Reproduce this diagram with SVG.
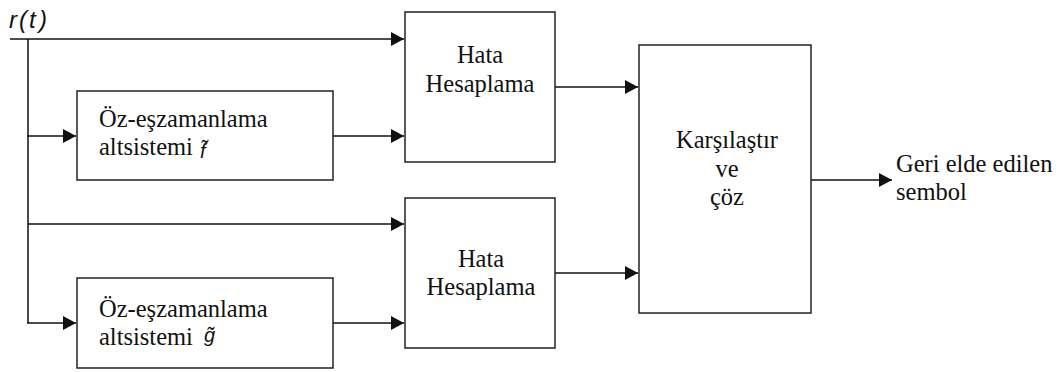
<svg xmlns="http://www.w3.org/2000/svg" width="1059" height="372" viewBox="0 0 1059 372">
<style>
.box{fill:#fff;stroke:#222;stroke-width:1.5}
.ln{fill:none;stroke:#111;stroke-width:1.5}
.t{font-family:"Liberation Serif","Times New Roman",serif;font-size:24.5px;fill:#111}
.c{text-anchor:middle}
.m{font-family:"Liberation Sans",Arial,sans-serif;font-style:italic;fill:#111}
</style>
<defs>
<marker id="ah" markerUnits="userSpaceOnUse" markerWidth="14" markerHeight="14" refX="13" refY="7" orient="auto">
<path d="M0,0 L13,7 L0,14 z" fill="#111"/>
</marker>
</defs>
<rect width="1059" height="372" fill="#fff"/>
<g id="connectors">
<path class="ln" d="M10,39 H404" marker-end="url(#ah)"/>
<path class="ln" d="M28,39 V323"/>
<path class="ln" d="M27,136 H76" marker-end="url(#ah)"/>
<path class="ln" d="M333,136 H404" marker-end="url(#ah)"/>
<path class="ln" d="M28,224 H404" marker-end="url(#ah)"/>
<path class="ln" d="M27,323 H76" marker-end="url(#ah)"/>
<path class="ln" d="M333,323 H404" marker-end="url(#ah)"/>
<path class="ln" d="M555,87 H638" marker-end="url(#ah)"/>
<path class="ln" d="M555,273 H638" marker-end="url(#ah)"/>
<path class="ln" d="M811,180 H892" marker-end="url(#ah)"/>
</g>
<g id="input">
<text class="m" y="28" font-size="24"><tspan x="9">r</tspan><tspan x="19">(</tspan><tspan x="29">t</tspan><tspan x="39">)</tspan></text>
</g>
<g id="sync-f">
<rect class="box" x="77" y="91" width="256" height="89"/>
<text class="t" x="99" y="127">Öz-eşzamanlama</text>
<text class="t" x="99" y="155">altsistemi <tspan class="m" x="200" y="158" font-size="20">f̃</tspan></text>
</g>
<g id="sync-g">
<rect class="box" x="77" y="278" width="256" height="90"/>
<text class="t" x="99" y="317">Öz-eşzamanlama</text>
<text class="t" x="99" y="345">altsistemi <tspan class="m" x="204" y="342" font-size="20">g̃</tspan></text>
</g>
<g id="hata-1">
<rect class="box" x="405" y="12" width="150" height="150"/>
<text class="t c" x="480" y="63">Hata</text>
<text class="t c" x="480" y="92">Hesaplama</text>
</g>
<g id="hata-2">
<rect class="box" x="405" y="198" width="150" height="150"/>
<text class="t c" x="481" y="267">Hata</text>
<text class="t c" x="481" y="295">Hesaplama</text>
</g>
<g id="compare">
<rect class="box" x="639" y="45" width="172" height="268"/>
<text class="t c" x="727" y="148">Karşılaştır</text>
<text class="t c" x="727" y="177">ve</text>
<text class="t c" x="727" y="205">çöz</text>
</g>
<g id="output">
<text class="t" x="896" y="172">Geri elde edilen</text>
<text class="t" x="896" y="200">sembol</text>
</g>
</svg>
